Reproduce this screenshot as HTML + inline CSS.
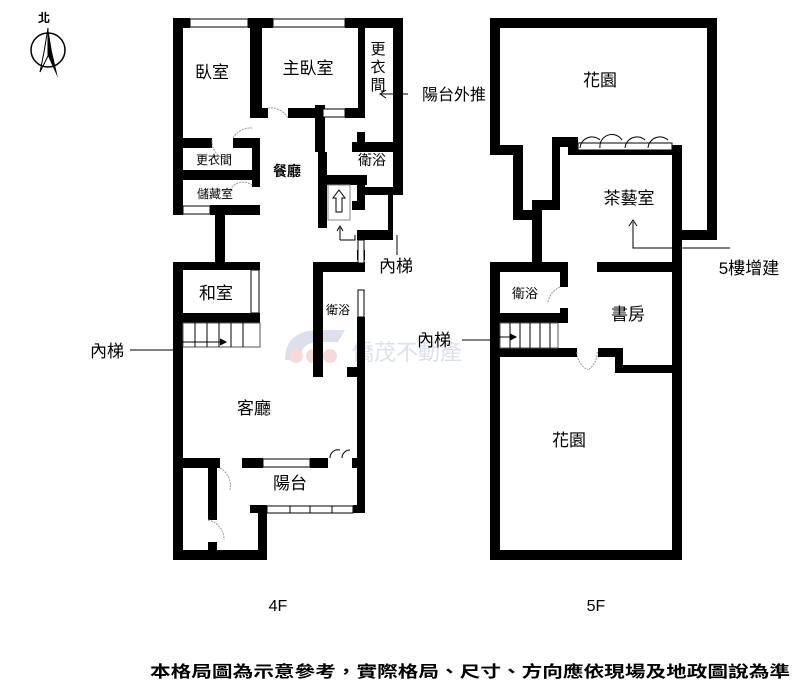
<!DOCTYPE html>
<html><head><meta charset="utf-8"><style>
body{margin:0;background:#fff;}
svg text{font-family:"Liberation Sans","Noto Sans CJK TC",sans-serif;fill:#000;}
</style></head><body>
<svg width="800" height="694" viewBox="0 0 800 694" xmlns="http://www.w3.org/2000/svg">
<rect width="800" height="694" fill="#fff"/>
<g opacity="0.18">
<path d="M285 360 Q285 330 320 330 L345 330 L338 342 L320 342 Q300 342 300 360 Z" fill="#3b5a9a"/>
<circle cx="296" cy="356" r="7" fill="#d33"/><circle cx="313" cy="356" r="7" fill="#d33"/><circle cx="330" cy="356" r="7" fill="#d33"/>
<text x="352" y="360" font-size="22" style="fill:#3b5a9a">僑茂不動產</text>
</g>
<text x="38" y="22" font-size="12" font-weight="bold">北</text>
<circle cx="48" cy="50" r="17" fill="none" stroke="#000" stroke-width="1.5"/>
<path d="M48 28 L52 52 L58 78 L48 56 Z" fill="#000"/>
<path d="M48 28 L44 52 L40 72 L48 56 Z" fill="none" stroke="#000"/>
<g fill="#000">
<rect x="173" y="18" width="17" height="10"/>
<rect x="248" y="18" width="25" height="10"/>
<rect x="345" y="18" width="58" height="10"/>
<rect x="173" y="18" width="10" height="197"/>
<rect x="250" y="18" width="12" height="100"/>
<rect x="252" y="108" width="16" height="10"/>
<rect x="288" y="108" width="35" height="10"/>
<rect x="345" y="108" width="20" height="10"/>
<rect x="358" y="18" width="7" height="100"/>
<rect x="393" y="18" width="10" height="177"/>
<rect x="183" y="138" width="29" height="10"/>
<rect x="233" y="138" width="27" height="10"/>
<rect x="252" y="138" width="8" height="49"/>
<rect x="183" y="170" width="69" height="10"/>
<rect x="173" y="205" width="10" height="10"/>
<rect x="210" y="205" width="50" height="10"/>
<rect x="215" y="215" width="10" height="47"/>
<rect x="315" y="105" width="10" height="47"/>
<rect x="318" y="152" width="9" height="76"/>
<rect x="352" y="142" width="41" height="10"/>
<rect x="357" y="132" width="8" height="12"/>
<rect x="325" y="175" width="42" height="10"/>
<rect x="357" y="175" width="8" height="35"/>
<rect x="352" y="201" width="13" height="9"/>
<rect x="365" y="187" width="38" height="8"/>
<rect x="388" y="195" width="5" height="45"/>
<rect x="357" y="230" width="36" height="10"/>
<rect x="173" y="262" width="87" height="8"/>
<rect x="173" y="262" width="10" height="298"/>
<rect x="183" y="313" width="77" height="10"/>
<rect x="313" y="262" width="52" height="10"/>
<rect x="313" y="262" width="10" height="115"/>
<rect x="357" y="250" width="8" height="10"/>
<rect x="357" y="317" width="8" height="196"/>
<rect x="347" y="367" width="10" height="10"/>
<rect x="173" y="458" width="47" height="10"/>
<rect x="242" y="458" width="21" height="10"/>
<rect x="310" y="458" width="18" height="10"/>
<rect x="352" y="458" width="13" height="10"/>
<rect x="208" y="468" width="9" height="52"/>
<rect x="208" y="542" width="9" height="18"/>
<rect x="173" y="550" width="94" height="10"/>
<rect x="258" y="505" width="9" height="55"/>
<rect x="250" y="505" width="17" height="8"/>
<rect x="353" y="505" width="12" height="8"/>
<rect x="490" y="18" width="227" height="10"/>
<rect x="490" y="18" width="10" height="137"/>
<rect x="490" y="145" width="33" height="10"/>
<rect x="513" y="145" width="10" height="75"/>
<rect x="513" y="210" width="29" height="10"/>
<rect x="532" y="200" width="10" height="62"/>
<rect x="532" y="200" width="28" height="10"/>
<rect x="552" y="137" width="8" height="73"/>
<rect x="552" y="137" width="26" height="10"/>
<rect x="568" y="145" width="114" height="10"/>
<rect x="707" y="18" width="10" height="222"/>
<rect x="673" y="230" width="44" height="10"/>
<rect x="672" y="145" width="10" height="415"/>
<rect x="490" y="262" width="78" height="10"/>
<rect x="560" y="262" width="8" height="25"/>
<rect x="560" y="308" width="8" height="15"/>
<rect x="500" y="313" width="68" height="10"/>
<rect x="490" y="348" width="87" height="9"/>
<rect x="490" y="262" width="10" height="298"/>
<rect x="597" y="262" width="85" height="10"/>
<rect x="598" y="348" width="25" height="9"/>
<rect x="615" y="348" width="8" height="25"/>
<rect x="615" y="365" width="67" height="8"/>
<rect x="490" y="550" width="192" height="10"/>
</g>
<g fill="#fff" stroke="#000" stroke-width="1">
<rect x="190" y="19" width="58" height="8"/><rect x="273" y="19" width="72" height="8"/>
<rect x="323" y="109" width="22" height="8"/>
<rect x="183" y="206" width="27" height="8"/>
<rect x="358" y="240" width="6" height="23"/>
<rect x="251" y="270" width="8" height="43"/>
<rect x="358" y="290" width="6" height="27"/>
<rect x="263" y="459" width="47" height="8"/>
<rect x="267" y="506" width="86" height="7"/>
<rect x="578" y="143" width="94" height="7"/>
</g>
<g stroke="#000" stroke-width="1" fill="none">
<line x1="290" y1="506" x2="290" y2="513"/><line x1="310" y1="506" x2="310" y2="513"/><line x1="332" y1="506" x2="332" y2="513"/>
<rect x="328" y="185" width="22" height="35" stroke="#888"/>
<path d="M339 190 L345 198 L342 198 L342 212 L336 212 L336 198 L333 198 Z"/>
<path d="M340 240 L340 228 M337 231 L340 226 L343 231"/>
<path d="M340 240 L355 240 L355 235"/>
<path d="M397 235 L397 255"/>
<rect x="183" y="323" width="77" height="24" stroke="#555"/>
<path d="M195 323V347M207 323V347M219 323V347M231 323V347M243 323V347"/>
<path d="M130 350 L180 350 L180 342 L225 342"/>
<path d="M220 339 L226 342 L220 345" fill="#000"/>
<rect x="500" y="323" width="58" height="25" stroke="#555"/>
<path d="M510 323V348M520 323V348M530 323V348M540 323V348M550 323V348"/>
<path d="M462 340 L493 340 L493 337 L515 337"/>
<path d="M510 334 L516 337 L510 340" fill="#000"/>
<g stroke="#999" stroke-dasharray="2,1">
<path d="M268 108 A20 20 0 0 1 288 118"/>
<path d="M233 138 A20 20 0 0 1 252 128"/>
<path d="M212 140 A20 20 0 0 0 222 158"/>
<path d="M230 190 A15 15 0 0 1 252 185"/>
<path d="M220 468 A20 20 0 0 1 230 490"/>
<path d="M208 520 A20 20 0 0 1 224 540"/>
<path d="M560 287 A20 20 0 0 0 548 302"/>
<path d="M577 352 A20 20 0 0 0 588 370"/>
<path d="M597 352 A20 20 0 0 1 588 370"/>
</g>
<path d="M580 148 A12 12 0 0 1 600 140 M600 148 A12 12 0 0 1 622 140 M625 148 A12 12 0 0 1 645 140 M648 148 A12 12 0 0 1 668 140"/>
<path d="M330 458 A8 8 0 0 1 340 450 M342 458 A8 8 0 0 1 350 450"/>
<path d="M408 94 L380 94 M386 90 L380 94 L386 98"/>
<path d="M730 248 L633 248 L633 222 M629 226 L633 220 L637 226"/>
</g>
<g font-size="17" text-anchor="middle">
<text x="212" y="78">臥室</text>
<text x="308" y="74">主臥室</text>
<text x="378" y="54" font-size="15">更</text><text x="378" y="72" font-size="15">衣</text><text x="378" y="90" font-size="15">間</text>
<text x="214" y="164" font-size="12">更衣間</text>
<text x="215" y="198" font-size="12">儲藏室</text>
<text x="287" y="176" font-size="14" font-weight="bold">餐廳</text>
<text x="372" y="165" font-size="14">衛浴</text>
<text x="216" y="299">和室</text>
<text x="338" y="314" font-size="12">衛浴</text>
<text x="254" y="414">客廳</text>
<text x="290" y="489">陽台</text>
<text x="454" y="100" font-size="16">陽台外推</text>
<text x="396" y="272">內梯</text>
<text x="107" y="357">內梯</text>
<text x="600" y="86">花園</text>
<text x="629" y="204">茶藝室</text>
<text x="749" y="274">5樓增建</text>
<text x="525" y="298" font-size="13">衛浴</text>
<text x="628" y="320">書房</text>
<text x="434" y="346">內梯</text>
<text x="569" y="446">花園</text>
<text x="278" y="611" font-size="16">4F</text>
<text x="596" y="611" font-size="16">5F</text>
</g>
<text x="150" y="677" font-size="16" font-weight="bold" textLength="640" lengthAdjust="spacingAndGlyphs">本格局圖為示意參考，實際格局、尺寸、方向應依現場及地政圖說為準</text>
</svg>
</body></html>
